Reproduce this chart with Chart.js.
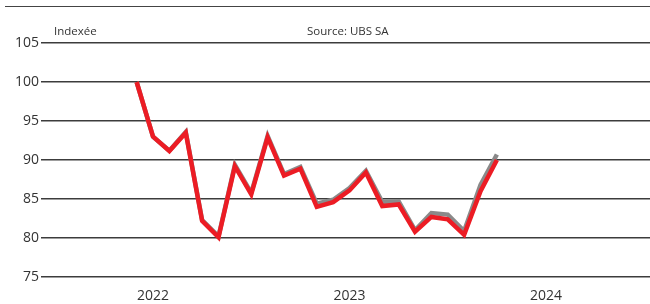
<!DOCTYPE html>
<html>
<head>
<meta charset="utf-8">
<script src="https://cdn.jsdelivr.net/npm/chart.js@4"></script>
<style>
  html, body { margin: 0; padding: 0; background: #fff; overflow: hidden; }
  #wrap { position: relative; width: 650px; height: 304px; }
  #c { display: block; position: absolute; left: 0; top: 0; }
  #topline { position: absolute; left: 5px; top: 6px; width: 645px; height: 0; border-top: 1.5px solid #444; }
  .lbl { position: absolute; font-family: "Open Sans", "Noto Sans", sans-serif; font-size: 11.5px; color: #333; white-space: nowrap; line-height: 1; }
</style>
</head>
<body>
<div id="wrap">
  <canvas id="c" width="650" height="304"></canvas>
  <div id="topline"></div>
  <div class="lbl" style="left:54px; top:25px;">Indexée</div>
  <div class="lbl" style="left:307px; top:25px;">Source: UBS SA</div>
</div>
<script>
// Months (month index: (year-2022)*12 + month-1)
const months = ["2022-06","2022-07","2022-08","2022-09","2022-10","2022-11","2022-12",
                "2023-01","2023-02","2023-03","2023-04","2023-05","2023-06","2023-07",
                "2023-08","2023-09","2023-10","2023-11","2023-12","2024-01","2024-02",
                "2024-03","2024-04"];
const redSeries  = [100, 93.0, 91.15, 93.5, 82.2, 80.1, 89.2, 85.6, 92.9, 88.0, 88.9, 84.0,
                    84.6, 86.1, 88.4, 84.1, 84.3, 80.8, 82.7, 82.4, 80.4, 86.0, 90.0];
const graySeries = [100, 93.0, 91.2, 93.6, 82.3, 80.2, 89.4, 85.8, 93.1, 88.2, 89.1, 84.4,
                    84.9, 86.4, 88.6, 84.6, 84.7, 81.0, 83.2, 83.0, 80.9, 86.8, 90.7];
const yearLabels = ["2022", "2023", "2024"];
const yTicks = [75, 80, 85, 90, 95, 100, 105];

function monthIndex(s) {
  const [y, m] = s.split("-").map(Number);
  return (y - 2022) * 12 + (m - 1);
}
const toPts = arr => arr.map((v, i) => ({ x: monthIndex(months[i]), y: v }));

new Chart(document.getElementById("c"), {
  type: "line",
  data: {
    datasets: [
      { data: toPts(redSeries), order: 0, borderColor: "#ec1c24", borderWidth: 4.5, pointRadius: 0, tension: 0, borderJoinStyle: "miter" },
      { data: toPts(graySeries), order: 1, borderColor: "#8a8a8a", borderWidth: 4.5, pointRadius: 0, tension: 0, borderJoinStyle: "miter" }
    ]
  },
  options: {
    responsive: false,
    animation: false,
    layout: { padding: { top: 43, right: 0, bottom: 0, left: 0 } },
    plugins: { legend: { display: false }, tooltip: { enabled: false } },
    scales: {
      x: {
        type: "linear",
        min: -0.84,
        max: 36.35,
        grid: { display: false },
        border: { display: false },
        afterBuildTicks: s => { s.ticks = yearLabels.map((y, i) => ({ value: i * 12 + 6 })); },
        afterFit: s => { s.height = 27; },
        ticks: {
          padding: 3,
          autoSkip: false,
          maxRotation: 0,
          color: "#333",
          font: { family: "'Open Sans', 'Noto Sans', sans-serif", size: 14 },
          callback: (v) => yearLabels[Math.round((v - 6) / 12)]
        }
      },
      y: {
        min: 75,
        max: 105,
        afterBuildTicks: s => { s.ticks = yTicks.map(v => ({ value: v })); },
        afterFit: s => { s.width = 41; },
        grid: { color: "#3c3c3c", lineWidth: 1.5, drawTicks: false },
        border: { display: false },
        ticks: {
          padding: 2,
          color: "#333",
          font: { family: "'Open Sans', 'Noto Sans', sans-serif", size: 14 }
        }
      }
    }
  }
});
</script>
</body>
</html>
